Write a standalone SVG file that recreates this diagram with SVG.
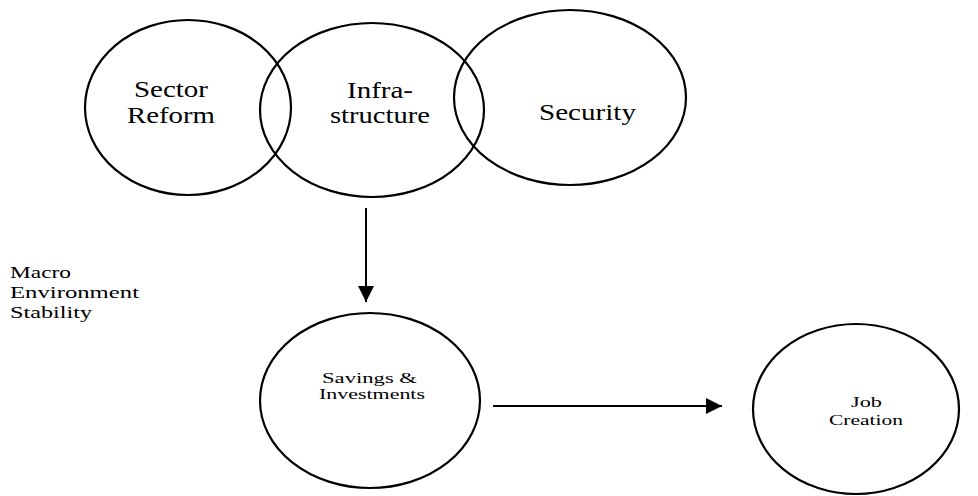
<svg xmlns="http://www.w3.org/2000/svg" width="978" height="496" viewBox="0 0 978 496">
  <defs>
    <marker id="arrow" markerWidth="16" markerHeight="16" viewBox="0 0 16 16" refX="16" refY="8" orient="auto" markerUnits="userSpaceOnUse">
      <path d="M0,0 L16,8 L0,16 Z" fill="#000"/>
    </marker>
    <style>
      .node ellipse { fill: none; stroke: #000; stroke-width: 2.2; }
      text { font-family: "Liberation Serif", "Times New Roman", serif; fill: #000; }
      .big { font-size: 23px; }
      .small { font-size: 15px; }
      .label { font-size: 17px; }
      .conn line { stroke: #000; stroke-width: 2; }
    </style>
  </defs>
  <rect width="978" height="496" fill="#fff"/>

  <g id="sector-reform" class="node">
    <ellipse cx="188" cy="107.5" rx="103" ry="87.5"/>
    <text class="big" x="134" y="97" textLength="74" lengthAdjust="spacingAndGlyphs">Sector</text>
    <text class="big" x="127" y="123" textLength="88" lengthAdjust="spacingAndGlyphs">Reform</text>
  </g>

  <g id="infrastructure" class="node">
    <ellipse cx="372" cy="110" rx="112" ry="87"/>
    <text class="big" x="347" y="98" textLength="66" lengthAdjust="spacingAndGlyphs">Infra-</text>
    <text class="big" x="330" y="123" textLength="100" lengthAdjust="spacingAndGlyphs">structure</text>
  </g>

  <g id="security" class="node">
    <ellipse cx="570" cy="97.5" rx="116" ry="87.5"/>
    <text class="big" x="539" y="120" textLength="97" lengthAdjust="spacingAndGlyphs">Security</text>
  </g>

  <g id="macro-environment">
    <text class="label" x="10" y="278" textLength="61" lengthAdjust="spacingAndGlyphs">Macro</text>
    <text class="label" x="10" y="298" textLength="129" lengthAdjust="spacingAndGlyphs">Environment</text>
    <text class="label" x="10" y="318" textLength="82" lengthAdjust="spacingAndGlyphs">Stability</text>
  </g>

  <g id="savings-investments" class="node">
    <ellipse cx="370" cy="400.5" rx="110" ry="87.5"/>
    <text class="small" x="322" y="383" textLength="95" lengthAdjust="spacingAndGlyphs">Savings &amp;</text>
    <text class="small" x="319" y="399" textLength="106" lengthAdjust="spacingAndGlyphs">Investments</text>
  </g>

  <g id="job-creation" class="node">
    <ellipse cx="856" cy="409" rx="103" ry="85"/>
    <text class="small" x="851" y="407" textLength="31" lengthAdjust="spacingAndGlyphs">Job</text>
    <text class="small" x="829" y="425" textLength="74" lengthAdjust="spacingAndGlyphs">Creation</text>
  </g>

  <g id="connectors" class="conn">
    <line x1="366" y1="208" x2="366" y2="302" marker-end="url(#arrow)"/>
    <line x1="493" y1="406" x2="722" y2="406" marker-end="url(#arrow)"/>
  </g>
</svg>
